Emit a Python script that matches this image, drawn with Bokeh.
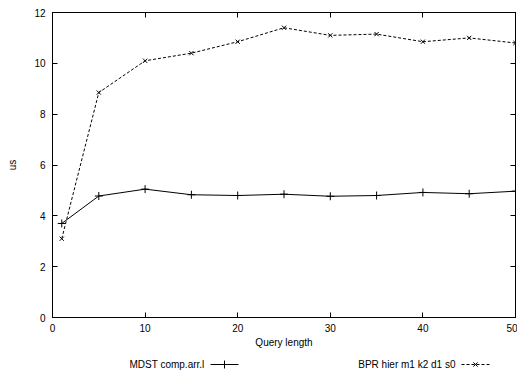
from bokeh.plotting import figure
from bokeh.models import LinearAxis, Range1d, FixedTicker
from bokeh.layouts import column
from bokeh.core.properties import value
from bokeh.embed import file_html
from bokeh.resources import INLINE

query_length = [1, 5, 10, 15, 20, 25, 30, 35, 40, 45, 50]
mdst = [3.7, 4.78, 5.05, 4.83, 4.8, 4.85, 4.77, 4.8, 4.92, 4.87, 4.97]
bpr = [3.1, 8.85, 10.1, 10.4, 10.85, 11.4, 11.1, 11.15, 10.85, 11.0, 10.8]
x_ticks = [0, 10, 20, 30, 40, 50]
y_ticks = [0, 2, 4, 6, 8, 10, 12]
series_names = ["MDST comp.arr.l", "BPR hier m1 k2 d1 s0"]

FONT = "Liberation Sans"
FRAME_LEFT, FRAME_RIGHT = 52, 515   # canvas pixels of the plot frame

p = figure(width=517, height=350, output_backend="svg", toolbar_location=None,
           x_range=Range1d(0, 50), y_range=Range1d(0, 12),
           x_axis_label="Query length", y_axis_label="us",
           min_border_left=FRAME_LEFT, min_border_right=517 - FRAME_RIGHT,
           min_border_top=12, min_border_bottom=33)
p.grid.visible = False
p.outline_line_color = "black"
p.outline_line_width = 1

def style_axis(ax, ticks, show_labels=True):
    ax.ticker = FixedTicker(ticks=ticks)
    ax.major_tick_in = 5
    ax.major_tick_out = 0
    ax.minor_tick_line_color = None
    ax.axis_line_color = "black"
    ax.major_tick_line_color = "black"
    ax.major_label_text_font = FONT
    ax.major_label_text_font_size = "10px"
    ax.major_label_text_color = "black"
    ax.axis_label_text_font = FONT
    ax.axis_label_text_font_size = "10px"
    ax.axis_label_text_font_style = "normal"
    ax.axis_label_text_color = "black"
    if not show_labels:
        ax.major_label_overrides = {t: "" for t in ticks}
        ax.major_label_standoff = 0

style_axis(p.xaxis[0], x_ticks)
style_axis(p.yaxis[0], y_ticks)
p.xaxis[0].major_label_standoff = 6
p.xaxis[0].axis_label_standoff = 2
p.yaxis[0].major_label_standoff = 7
p.yaxis[0].axis_label_standoff = 13

top = LinearAxis()
style_axis(top, x_ticks, show_labels=False)
p.add_layout(top, "above")
right = LinearAxis()
style_axis(right, y_ticks, show_labels=False)
p.add_layout(right, "right")

p.line(query_length, mdst, line_color="black", line_width=1)
p.scatter(query_length, mdst, marker="cross", size=8, line_color="black", line_width=1)
p.line(query_length, bpr, line_color="black", line_width=1, line_dash="3 2")
p.scatter(query_length, bpr, marker="x", size=6, line_color="black", line_width=1)

# legend strip below the plot (gnuplot style: text then sample).
# Its frame is aligned with the main frame by the column layout, so its
# x range is expressed in canvas pixels of that frame.
lg = figure(width=517, height=22, output_backend="svg", toolbar_location=None,
            x_range=Range1d(FRAME_LEFT, FRAME_RIGHT), y_range=Range1d(0, 22),
            x_axis_location=None, y_axis_location=None,
            min_border=0, min_border_left=0, min_border_right=0,
            min_border_top=0, min_border_bottom=0)
lg.grid.visible = False
lg.outline_line_color = None

ly = 8
lg.text(x=[204, 455], y=[ly, ly], text=series_names, text_align="right",
        text_baseline="middle", text_font=value(FONT), text_font_size="10px",
        text_color="black")
lg.line([210, 238], [ly, ly], line_color="black", line_width=1)
lg.scatter([224], [ly], marker="cross", size=8, line_color="black", line_width=1)
lg.line([461, 490], [ly, ly], line_color="black", line_width=1, line_dash="3 2")
lg.scatter([475], [ly], marker="x", size=6, line_color="black", line_width=1)

layout = column(p, lg, spacing=0)
open("out.html", "w").write(file_html(layout, INLINE))
